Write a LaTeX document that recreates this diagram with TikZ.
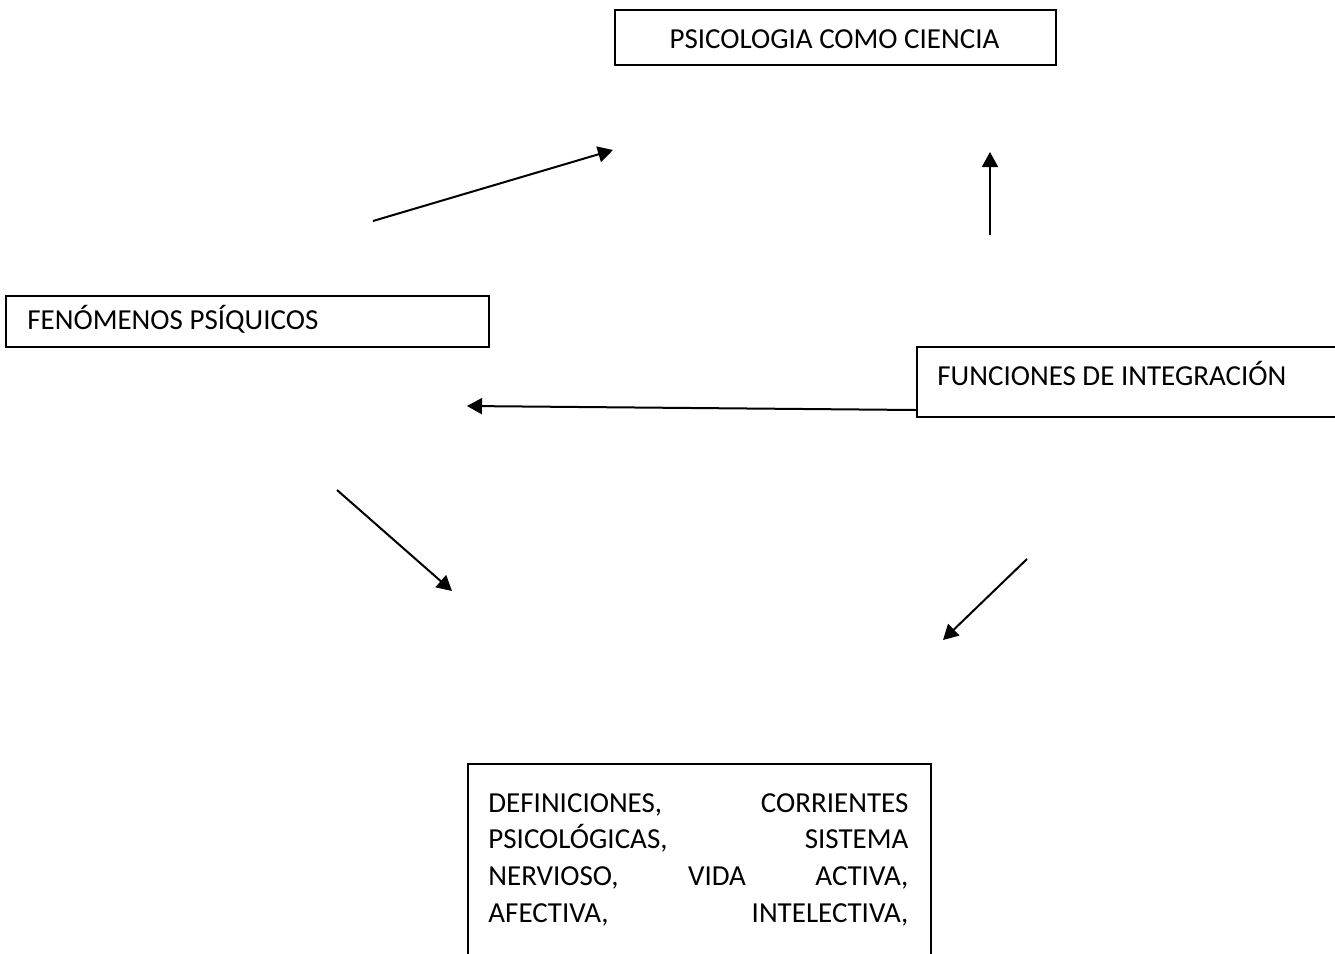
\documentclass[tikz,border=0pt]{standalone}
\usepackage{fontspec}
\setmainfont{Carlito}
\usetikzlibrary{arrows.meta}
\begin{document}
\begin{tikzpicture}[x=0.5pt,y=-0.5pt,
  box/.style={draw, line width=1pt, inner sep=0pt, anchor=north west},
  lbl/.style={inner sep=0pt, font=\fontsize{14.5}{18.35}\selectfont},
  arr/.style={line width=1pt, -{Triangle[length=7.5pt,width=8pt]}}]
\useasboundingbox (0,0) rectangle (1335,954);
\clip (0,0) rectangle (1335,954);
% boxes
\node[box, minimum width=220.5pt, minimum height=27.5pt] (psiBox) at (614,9) {};
\node[lbl, anchor=base] (psi) at (834.5,48) {PSICOLOGIA COMO CIENCIA};
\node[box, minimum width=241.5pt, minimum height=25.5pt] (fenBox) at (5,295) {};
\node[lbl, anchor=base west] (fen) at (27,329) {FENÓMENOS PSÍQUICOS};
\node[box, minimum width=242pt, minimum height=35pt] (funBox) at (916,346) {};
\node[lbl, anchor=base west] (fun) at (937,385) {FUNCIONES DE INTEGRACIÓN};
\node[box, minimum width=231.5pt, minimum height=118.5pt] (defBox) at (467,763) {};
\node[lbl, anchor=base west, text width=210pt, align=left] (def) at (488,812)
  {DEFINICIONES,\hfill CORRIENTES\\
   PSICOLÓGICAS,\hfill SISTEMA\\
   NERVIOSO,\hfill VIDA\hfill ACTIVA,\\
   AFECTIVA,\hfill INTELECTIVA,};
% arrows
\coordinate (a1s) at (373,221); \coordinate (a1e) at (613,150);
\coordinate (a2s) at (990,235); \coordinate (a2e) at (990,152);
\coordinate (a3s) at (337,490); \coordinate (a3e) at (452,591);
\coordinate (a4s) at (1027,559); \coordinate (a4e) at (943,640);
\coordinate (a5e) at (467,406);
\draw[arr] (a1s) -- (a1e);
\draw[arr] (a2s) -- (a2e);
\draw[arr] (a3s) -- (a3e);
\draw[arr] (a4s) -- (a4e);
\draw[arr] ([yshift=4pt]funBox.south west) -- (a5e);
\end{tikzpicture}
\end{document}
